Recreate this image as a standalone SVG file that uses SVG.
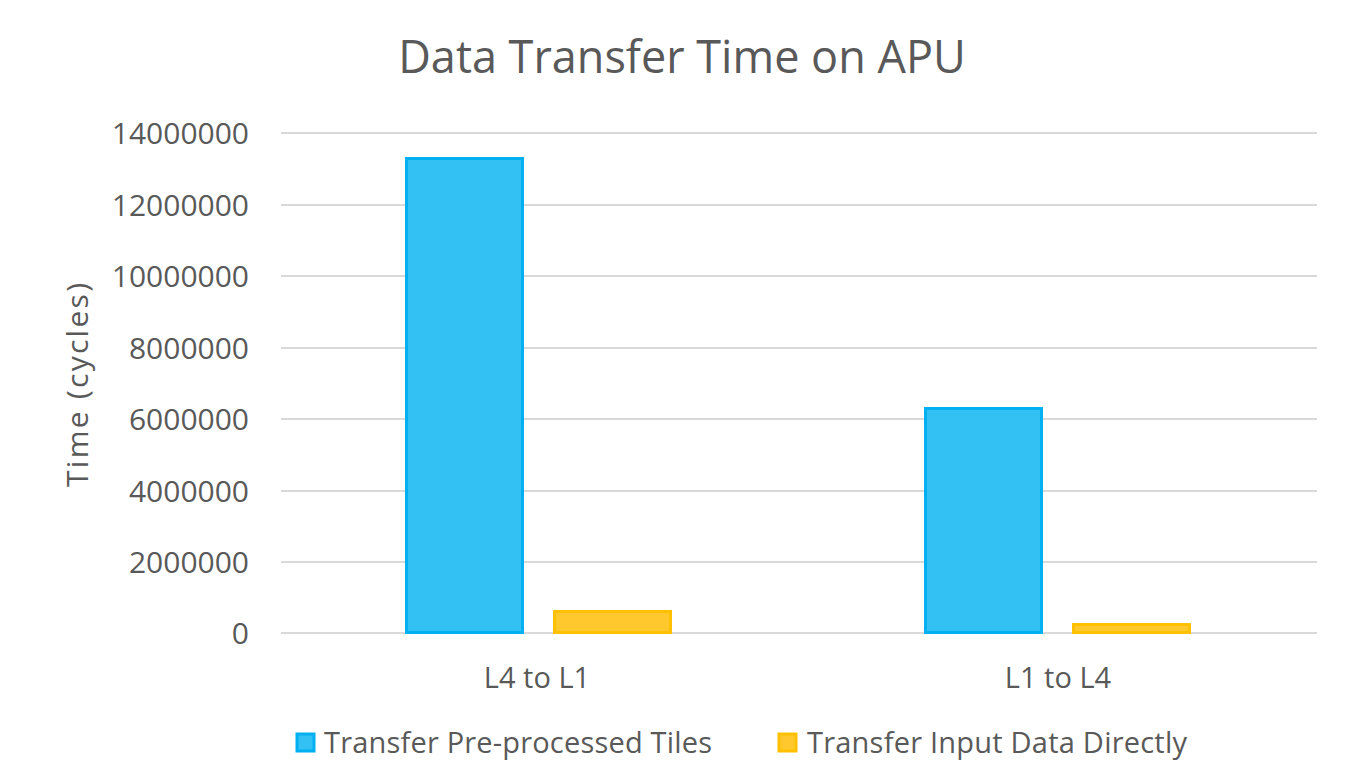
<svg xmlns="http://www.w3.org/2000/svg" width="1371" height="762" viewBox="0 0 1371 762">
  <style>
    text { font-family: "Open Sans", "Liberation Sans", sans-serif; fill: #595959; }
    .grid { stroke: #d9d9d9; stroke-width: 2; }
    .tick { font-size: 30px; text-anchor: end; }
    .cat { font-size: 29px; text-anchor: middle; }
    .leg { font-size: 29px; }
    .blue { fill: #33c0f3; stroke: #00b0f0; stroke-width: 3; }
    .gold { fill: #ffc92e; stroke: #ffc000; stroke-width: 3; }
  </style>
  <rect width="1371" height="762" fill="#ffffff"/>

  <text id="title" x="682" y="73" font-size="45" text-anchor="middle">Data Transfer Time on APU</text>

  <!-- horizontal gridlines, one per 2,000,000 cycles -->
  <g id="gridlines">
    <line class="grid" x1="281" y1="133" x2="1317" y2="133"/>
    <line class="grid" x1="281" y1="205" x2="1317" y2="205"/>
    <line class="grid" x1="281" y1="276" x2="1317" y2="276"/>
    <line class="grid" x1="281" y1="348" x2="1317" y2="348"/>
    <line class="grid" x1="281" y1="419" x2="1317" y2="419"/>
    <line class="grid" x1="281" y1="491" x2="1317" y2="491"/>
    <line class="grid" x1="281" y1="562" x2="1317" y2="562"/>
    <line class="grid" x1="281" y1="633" x2="1317" y2="633"/>
  </g>

  <g id="y-axis">
    <text class="tick" x="249" y="144">14000000</text>
    <text class="tick" x="249" y="216">12000000</text>
    <text class="tick" x="249" y="287">10000000</text>
    <text class="tick" x="249" y="359">8000000</text>
    <text class="tick" x="249" y="430">6000000</text>
    <text class="tick" x="249" y="502">4000000</text>
    <text class="tick" x="249" y="573">2000000</text>
    <text class="tick" x="249" y="644">0</text>
    <text x="88" y="385" font-size="30" text-anchor="middle" textLength="204" lengthAdjust="spacing" transform="rotate(-90 88 385)">Time (cycles)</text>
  </g>

  <g id="bars">
    <rect id="bar-l4l1-tiles" class="blue" x="406.5" y="158.5" width="116" height="474"/>
    <rect id="bar-l4l1-direct" class="gold" x="554.5" y="611.5" width="116" height="21"/>
    <rect id="bar-l1l4-tiles" class="blue" x="925.5" y="408.5" width="116" height="224"/>
    <rect id="bar-l1l4-direct" class="gold" x="1073.5" y="624.5" width="116" height="8"/>
  </g>

  <g id="x-axis">
    <text class="cat" x="537" y="688">L4 to L1</text>
    <text class="cat" x="1058" y="688">L1 to L4</text>
  </g>

  <g id="legend">
    <rect class="blue" x="297" y="734" width="17" height="17"/>
    <text class="leg" x="324" y="753" textLength="388" lengthAdjust="spacing">Transfer Pre-processed Tiles</text>
    <rect class="gold" x="779" y="734" width="17" height="17"/>
    <text class="leg" x="807" y="753" textLength="380" lengthAdjust="spacing">Transfer Input Data Directly</text>
  </g>
</svg>
